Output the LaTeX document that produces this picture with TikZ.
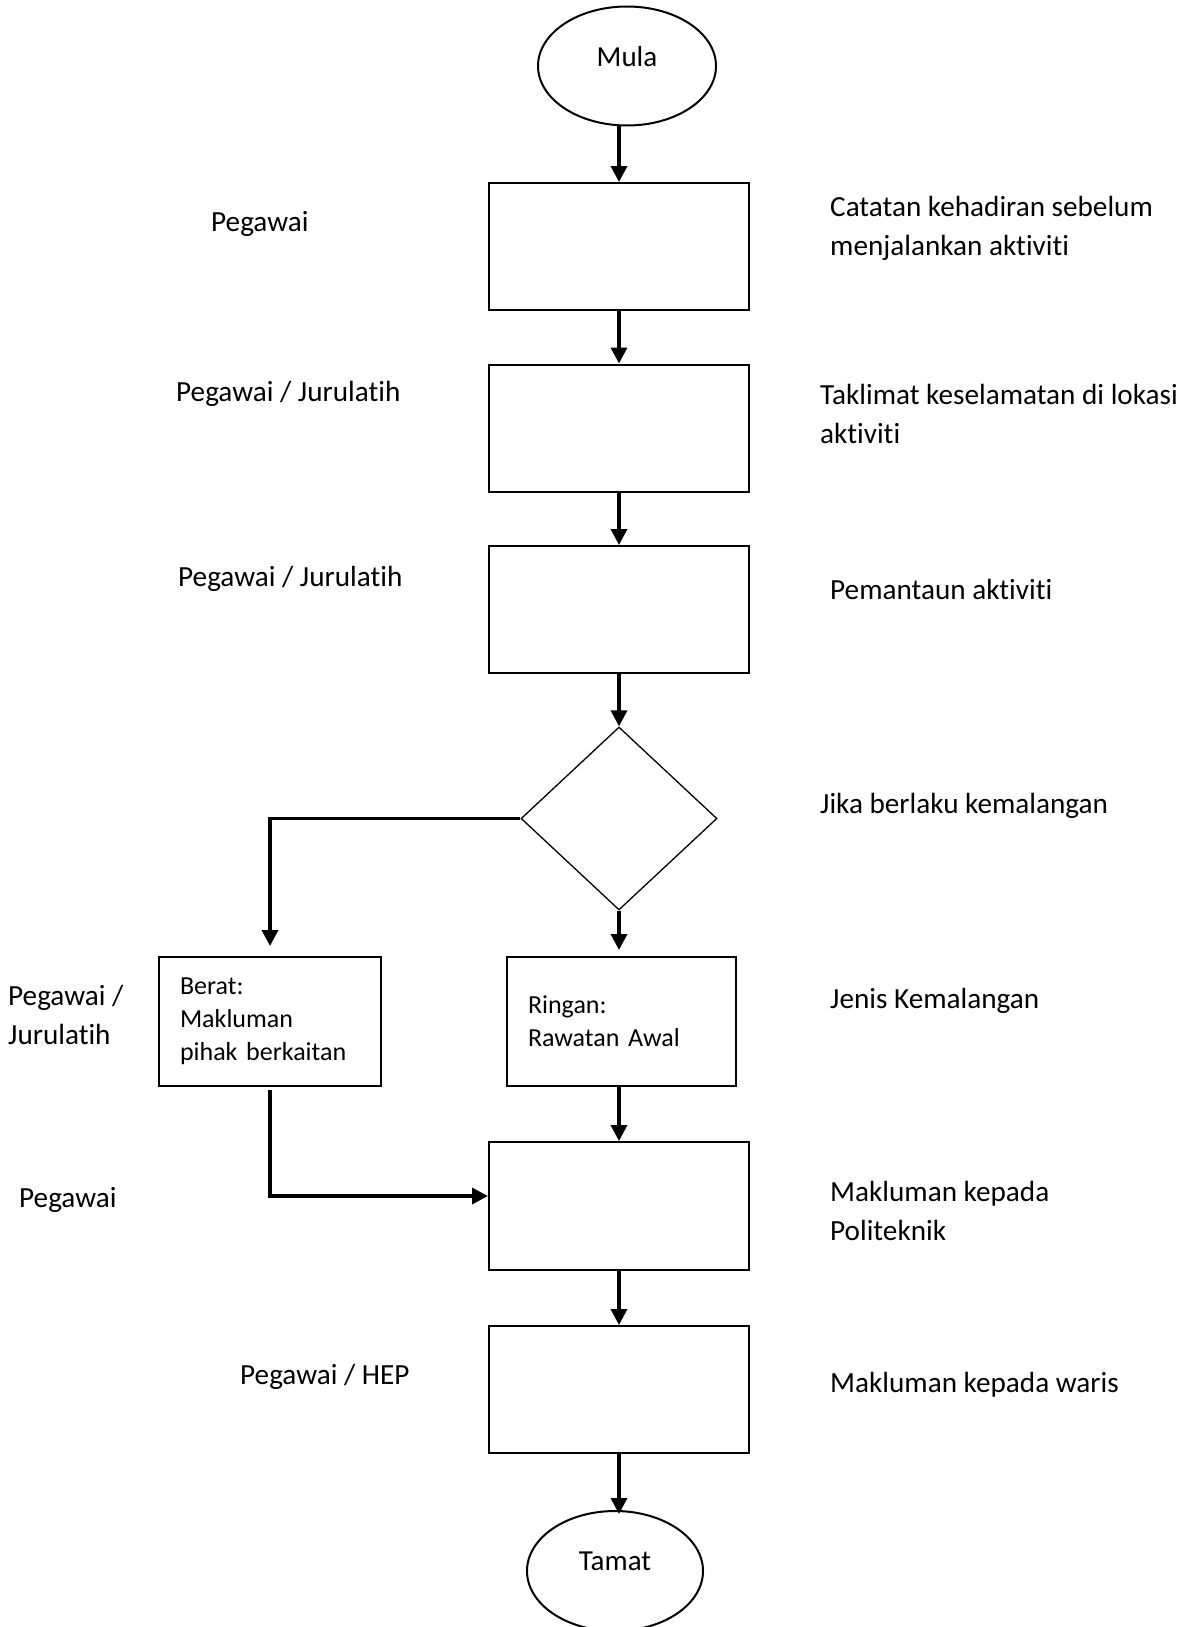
\documentclass[tikz,border=0pt]{standalone}
\usepackage{fontspec}
\setmainfont{Carlito}[Ligatures=NoCommon]
\usetikzlibrary{shapes.geometric, arrows.meta}

\begin{document}
\begin{tikzpicture}[x=1pt, y=-1pt,
    term/.style={ellipse, draw, line width=2pt, minimum width=178pt, minimum height=119pt,
      inner sep=0pt, text depth=20pt, font=\fontsize{29}{35}\selectfont},
    proc/.style={rectangle, draw, line width=2pt, minimum width=260pt, minimum height=127pt, inner sep=0pt},
    case/.style={rectangle, draw, line width=2pt, minimum height=129pt, inner xsep=21pt,
      align=left, font=\fontsize{26}{33}\selectfont},
    decide/.style={diamond, draw, line width=1.3pt, minimum width=196pt, minimum height=183pt, inner sep=0pt},
    who/.style={anchor=west, inner sep=0pt, align=left, font=\fontsize{29.2}{39}\selectfont},
    what/.style={who},
    flow/.style={line width=3.5pt, -{Triangle[length=16pt, width=16pt]}}]
  \useasboundingbox (0,0) rectangle (1191,1627);

  \node [term] at (627,66) (mula) {Mula};
  \node [proc] at (619,246.5) (b1) {};
  \node [proc] at (619,428) (b2) {};
  \node [proc] at (619,609.5) (b3) {};
  \node [decide] at (619,818.5) (dec) {};
  \node [case, text width=180pt] at (270,1021.5) (berat) {Berat:\\Makluman\\pihak berkaitan};
  \node [case, text width=187pt] at (621.5,1021.5) (ringan) {Ringan:\\Rawatan Awal};
  \node [proc, minimum height=128pt] at (619,1206) (b4) {};
  \node [proc] at (619,1389.5) (b5) {};
  \node [term, minimum width=176pt, minimum height=120pt] at (615,1571) (tamat) {Tamat};

  % siapa
  \node [who] at (211,224) (who1) {Pegawai};
  \node [who] at (176,394) (who2) {Pegawai / Jurulatih};
  \node [who] at (178,579) (who3) {Pegawai / Jurulatih};
  \node [who] at (8,1015) (who5) {Pegawai /\\Jurulatih};
  \node [who] at (19,1200) (who6) {Pegawai};
  \node [who] at (240,1377) (who7) {Pegawai / HEP};

  % apa
  \node [what] at (830,228) (what1) {Catatan kehadiran sebelum\\menjalankan aktiviti};
  \node [what] at (820,414) (what2) {Taklimat keselamatan di lokasi\\aktiviti};
  \node [what] at (830,589) (what3) {Pemantaun aktiviti};
  \node [what] at (820,806) (what4) {Jika berlaku kemalangan};
  \node [what] at (830,1001) (what5) {Jenis Kemalangan};
  \node [what] at (830,1211) (what6) {Makluman kepada\\Politeknik};
  \node [what] at (830,1385) (what7) {Makluman kepada waris};

  \draw [flow] (mula.south -| b1.north) -- (b1.north);
  \draw [flow] (b1.south) -- (b2.north);
  \draw [flow] (b2.south) -- (b3.north);
  \draw [flow] (b3.south) -- (dec.north);
  \draw [flow, shorten >=6pt] (dec.south) -- (dec.south |- ringan.north);
  \draw [flow, shorten >=10pt, line join=miter] (dec.west) -| (berat.north);
  \draw [flow] (b4.north |- ringan.south) -- (b4.north);
  \draw [flow, shorten <=3pt, line join=miter] (berat.south) |- ([yshift=10pt]b4.west);
  \draw [flow] (b4.south) -- (b5.north);
  \draw [flow, shorten >=-4pt] (b5.south) -- (b5.south |- tamat.north);
\end{tikzpicture}
\end{document}
